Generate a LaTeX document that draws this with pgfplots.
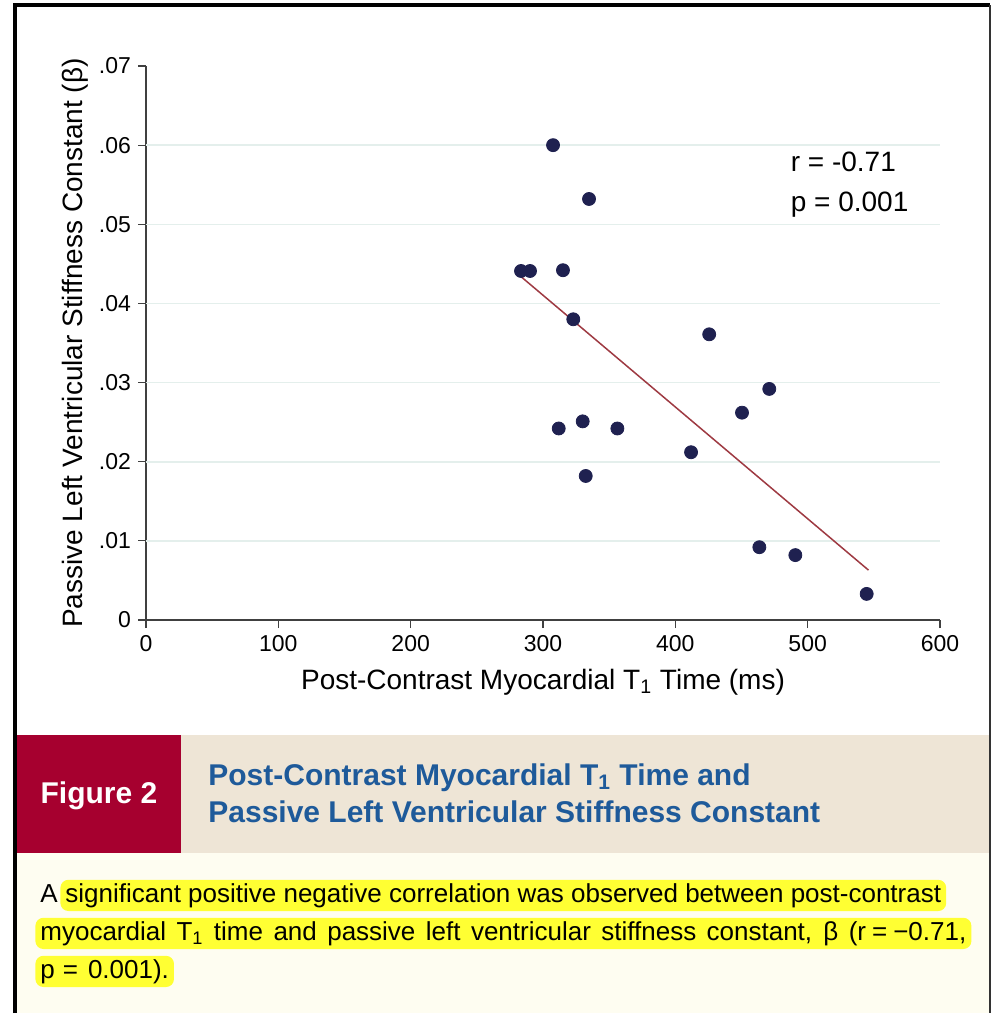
\documentclass[border=0pt]{standalone}
\usepackage{fontspec}
\setmainfont{Liberation Sans}
\usepackage{pgfplots}
\pgfplotsset{compat=1.18}
\definecolor{dotc}{HTML}{1F2150}
\definecolor{fitc}{HTML}{9E3A42}
\definecolor{gridc}{HTML}{E4EFEC}
\definecolor{figred}{HTML}{A6002F}
\definecolor{band}{HTML}{EEE5D6}
\definecolor{capbg}{HTML}{FEFDF1}
\definecolor{titleblue}{HTML}{1E5A9A}
\definecolor{hl}{HTML}{FFFF33}
\begin{document}
\begin{tikzpicture}
\begin{scope}[x=0.5pt,y=-0.5pt]
\fill[white] (15,5) rectangle (990,1013);
\fill[capbg] (17,853) rectangle (990,1013);
\fill[band] (181,735) rectangle (990,853);
\fill[figred] (17,735) rectangle (181,853);
\node[anchor=base, text=white, font=\fontsize{15pt}{18pt}\selectfont\bfseries, inner sep=0pt] at (99,803) {Figure 2};
\node[anchor=base west, text=titleblue, font=\fontsize{15pt}{18pt}\selectfont\bfseries, inner sep=0pt] at (208,785) {Post-Contrast Myocardial T\textsubscript{1} Time and};
\node[anchor=base west, text=titleblue, font=\fontsize{15pt}{18pt}\selectfont\bfseries, inner sep=0pt] at (208,822) {Passive Left Ventricular Stiffness Constant};
\tikzset{hlnode/.style={anchor=base west, fill=hl, rounded corners=4pt, inner xsep=2.5pt, inner ysep=1.5pt, text height=9.6pt, text depth=3pt, font=\fontsize{13pt}{16pt}\selectfont}}
\node[anchor=base west, inner sep=0pt, font=\fontsize{13pt}{16pt}\selectfont] at (40,902) {A};
\node[hlnode] at (60,902) {significant positive negative correlation was observed between post-contrast};
\node[hlnode] at (35,940) {\makebox[463pt][s]{myocardial T\textsubscript{1} time and passive left ventricular stiffness constant, β (r\hspace{3pt}=\hspace{3pt}−0.71,}};
\node[hlnode] at (35,978) {p\hspace{4pt}=\hspace{5pt}0.001).};
\draw[line width=2pt, black] (15,1013) -- (15,5) -- (990,5);
\draw[line width=1pt, black!80] (990,5) -- (990,1013);
\end{scope}
\begin{axis}[
  at={(73pt,-310pt)}, anchor=south west,
  scale only axis, width=397pt, height=277pt,
  xmin=0, xmax=600, ymin=0, ymax=0.07,
  axis x line=bottom, axis y line=left,
  axis line style={-, line width=0.7pt, color=black!75},
  tick style={line width=0.6pt, color=black!75},
  tick align=outside, major tick length=4pt,
  xtick={0,100,200,300,400,500,600},
  ytick={0,0.01,0.02,0.03,0.04,0.05,0.06,0.07},
  yticklabels={0,.01,.02,.03,.04,.05,.06,.07},
  scaled y ticks=false,
  /pgf/number format/assume math mode=true,
  tick label style={font=\fontsize{11.5pt}{13pt}\selectfont},
  xlabel={Post-Contrast Myocardial T\textsubscript{1} Time (ms)},
  ylabel={Passive Left Ventricular Stiffness Constant (β)},
  label style={font=\fontsize{14pt}{16pt}\selectfont},
  xlabel style={at={(axis description cs:0.5,-0.1119)}, anchor=center},
  ylabel style={at={(axis description cs:-0.0885,0.5)}, anchor=center},
  clip=false,
]
\pgfplotsinvokeforeach{0.01,0.02,0.03,0.04,0.05,0.06}{
  \draw[gridc, line width=0.8pt] (axis cs:0,#1) -- (axis cs:600,#1);
}
\addplot[fitc, line width=0.75pt] coordinates {(284,0.0433) (546,0.0063)};
\addplot[only marks, mark=*, mark size=3.25pt, color=dotc, fill=dotc] coordinates {
(307.6,0.0600) (334.8,0.0532) (283.4,0.0441) (290.2,0.0441) (315.1,0.0442)
(322.9,0.0380) (425.6,0.0361) (471.0,0.0292) (450.4,0.0262) (311.9,0.0242)
(330.0,0.0251) (356.2,0.0242) (411.9,0.0212) (332.3,0.0182) (463.5,0.0092)
(490.7,0.0082) (544.6,0.0033)
};
\node[anchor=west, font=\fontsize{14pt}{16pt}\selectfont, inner sep=0pt] at (axis cs:487,0.0579) {r = -0.71};
\node[anchor=west, font=\fontsize{14pt}{16pt}\selectfont, inner sep=0pt] at (axis cs:487,0.0525) {p = 0.001};
\end{axis}
\pgfresetboundingbox
\useasboundingbox (0,0) rectangle (497pt,-507pt);
\end{tikzpicture}
\end{document}
